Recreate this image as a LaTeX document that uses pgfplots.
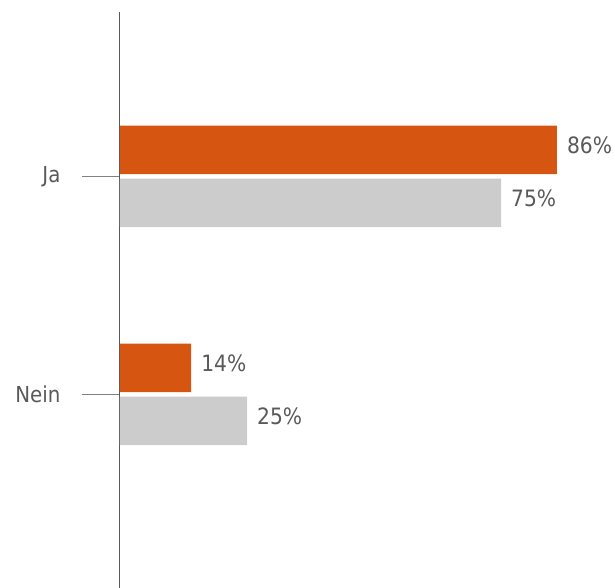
\documentclass[border=0pt]{standalone}
\usepackage{pgfplots}
\pgfplotsset{compat=1.18}
\usepackage{fontspec}
\setmainfont{DejaVu Sans Condensed}
\definecolor{orangebar}{RGB}{214,85,16}
\definecolor{graybar}{RGB}{204,204,204}
\definecolor{txt}{RGB}{89,89,89}
\begin{document}
\begin{tikzpicture}
\begin{axis}[
  at={(0pt,0pt)}, anchor=south west,
  scale only axis,
  width=495pt, height=576pt,
  xmin=0, xmax=97.44,
  ymin=-0.8876, ymax=1.7546,
  xbar, bar width=48.5pt,
  axis x line=none,
  axis y line*=left,
  y axis line style={-, draw=txt, line width=1pt},
  ytick={0,1}, yticklabels={Nein,Ja},
  tick align=outside, major tick length=38pt,
  ytick style={draw=gray, line width=1pt},
  yticklabel style={font=\fontsize{22}{26}\selectfont, text=txt, xshift=-18pt},
  clip=false,
  /pgf/number format/assume math mode=true,
  nodes near coords={\pgfmathprintnumber{\pgfplotspointmeta}\%},
  nodes near coords align={horizontal},
  every node near coord/.append style={font=\fontsize{22.5}{26}\selectfont, text=txt, anchor=west, inner sep=0pt, xshift=10pt, yshift=4.5pt},
]
\addplot[fill=orangebar, draw=none, bar shift=26.5pt] coordinates {(86,1) (14,0)};
\addplot[fill=graybar, draw=none, bar shift=-26.5pt] coordinates {(75,1) (25,0)};
\end{axis}
\pgfresetboundingbox
\path (-120pt,0pt) rectangle (495pt,588pt);
\end{tikzpicture}
\end{document}
